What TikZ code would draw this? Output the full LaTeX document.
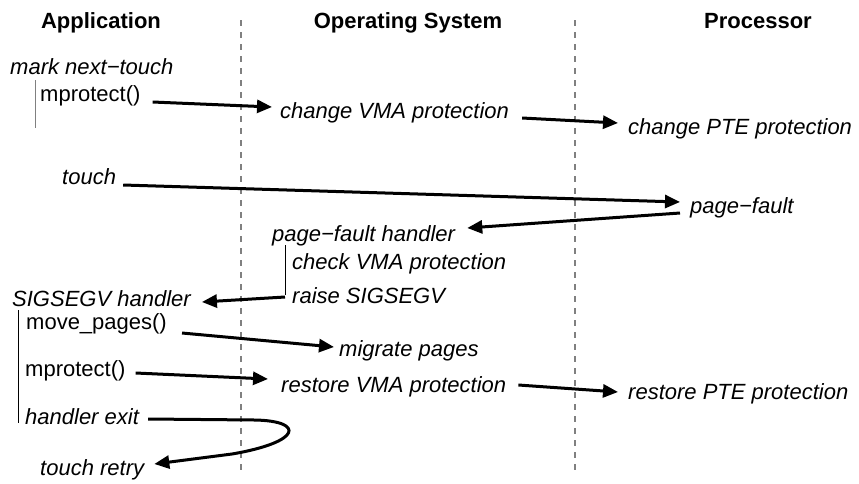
\documentclass[tikz,border=0pt]{standalone}
\usepackage{fontspec}
\setmainfont{Liberation Sans}
\usetikzlibrary{arrows.meta,calc}
\tikzset{
  lbl/.style={anchor=west,inner sep=0pt,text height=16pt,text depth=4pt,font=\fontsize{22}{26}\selectfont},
  itl/.style={lbl,font=\fontsize{22}{26}\selectfont\itshape},
  hdr/.style={anchor=center,inner sep=0pt,text height=16pt,text depth=4pt,font=\fontsize{22}{26}\selectfont\bfseries},
  msg/.style={line width=3pt,-{Triangle[length=15pt,width=13pt]}},
  lane/.style={gray,line width=1.2pt,dash pattern=on 6pt off 6pt},
  brk/.style={line width=1pt}
}
\begin{document}
\begin{tikzpicture}[x=1pt,y=-1pt]
\useasboundingbox (0,0) rectangle (859,483);
% headers
\node[hdr] (hApp) at (101,22) {Application};
\node[hdr] (hOS) at (408,22) {Operating System};
\node[hdr] (hProc) at (758,22) {Processor};
% lanes
\coordinate (l1t) at (241,20); \coordinate (l1b) at (241,470);
\coordinate (l2t) at (575,20); \coordinate (l2b) at (575,470);
\draw[lane] (l1t) -- (l1b);
\draw[lane] (l2t) -- (l2b);
% labels
\node[itl] (mark) at (10,68) {mark next−touch};
\node[lbl] (mp1) at (40,95) {mprotect()};
\node[itl] (cvma) at (280,112) {change VMA protection};
\node[itl] (cpte) at (628,128) {change PTE protection};
\node[itl] (touch) at (62,178) {touch};
\node[itl] (pf) at (690,207) {page−fault};
\node[itl] (pfh) at (272,235) {page−fault handler};
\node[itl] (chk) at (292,263) {check VMA protection};
\node[itl] (raise) at (292,297) {raise SIGSEGV};
\node[itl] (sig) at (12,300) {SIGSEGV handler};
\node[lbl] (mvp) at (26,323) {move\_pages()};
\node[itl] (mig) at (339,350) {migrate pages};
\node[lbl] (mp2) at (25,370) {mprotect()};
\node[itl] (rvma) at (281,386) {restore VMA protection};
\node[itl] (rpte) at (628,393) {restore PTE protection};
\node[itl] (hexit) at (25,418) {handler exit};
\node[itl] (tretry) at (40,469) {touch retry};
% brackets
\coordinate (b1t) at (35,80); \coordinate (b1b) at (35,128);
\draw[brk,gray] (b1t) -- (b1b);
\coordinate (b2t) at (285,245); \coordinate (b2b) at (285,295);
\draw[brk] (b2t) -- (b2b);
\coordinate (b3t) at (18,310); \coordinate (b3b) at (18,423);
\draw[brk] (b3t) -- (b3b);
% messages
\draw[msg] ($(mp1.east)+(12,7)$) -- ($(cvma.west)+(-8,-5)$);
\draw[msg] ($(cvma.east)+(13,6)$) -- ($(cpte.west)+(-10,-5)$);
\draw[msg] ($(touch.east)+(7,7)$) -- ($(pf.west)+(-10,-5)$);
\draw[msg] ($(pf.west)+(-10,6)$) -- ($(pfh.east)+(12,-7)$);
\draw[msg] ($(raise.west)+(-7,0)$) -- ($(sig.east)+(11,2)$);
\draw[msg] ($(mvp.east)+(15,10)$) -- ($(mig.west)+(-5,-3)$);
\draw[msg] ($(mp2.east)+(10,3)$) -- ($(rvma.west)+(-13,-7)$);
\draw[msg] ($(rvma.east)+(12,-1)$) -- ($(rpte.west)+(-10,-1)$);
\draw[msg] ($(hexit.east)+(9,1)$) -- (255,420) .. controls (305,421) and (302,442) .. (232,454) -- ($(tretry.east)+(10,-5)$);
\end{tikzpicture}
\end{document}
